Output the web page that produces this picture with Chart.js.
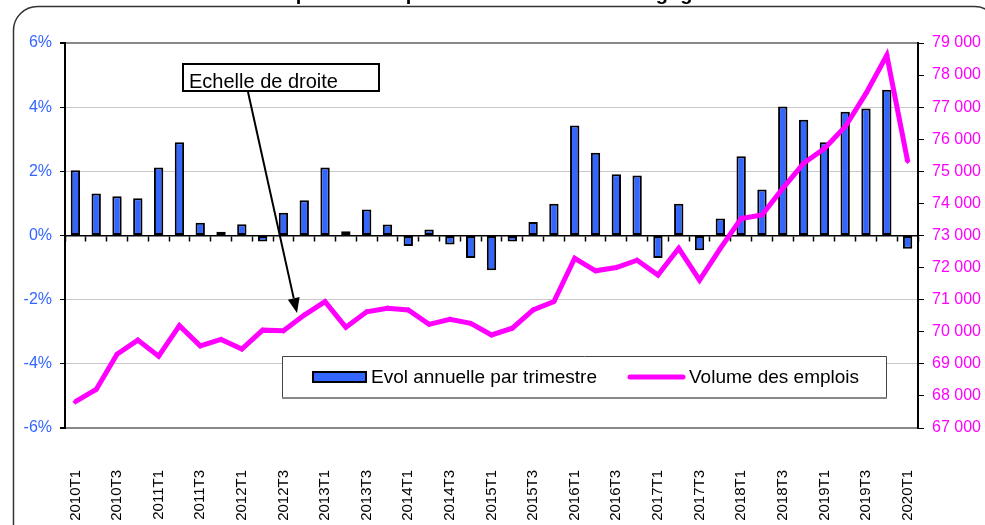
<!DOCTYPE html>
<html>
<head>
<meta charset="utf-8">
<script src="https://cdn.jsdelivr.net/npm/chart.js@4"></script>
<style>
  body { margin: 0; background: #fff; }
  #wrap { width: 985px; height: 525px; position: relative; }
</style>
</head>
<body>
<div id="wrap"><canvas id="chart" width="985" height="525"></canvas></div>
<script>
// === Data ===
const quarters = [
  '2010T1', '2010T2', '2010T3', '2010T4', '2011T1', '2011T2', '2011T3', '2011T4',
  '2012T1', '2012T2', '2012T3', '2012T4', '2013T1', '2013T2', '2013T3', '2013T4',
  '2014T1', '2014T2', '2014T3', '2014T4', '2015T1', '2015T2', '2015T3', '2015T4',
  '2016T1', '2016T2', '2016T3', '2016T4', '2017T1', '2017T2', '2017T3', '2017T4',
  '2018T1', '2018T2', '2018T3', '2018T4', '2019T1', '2019T2', '2019T3', '2019T4',
  '2020T1'
];

// annual change per quarter, in %
const evolAnnuelle = [
  2.03, 1.31, 1.22, 1.16, 2.12, 2.91, 0.40, 0.12, 0.35, -0.19,
  0.71, 1.10, 2.12, 0.13, 0.81, 0.34, -0.33, 0.19, -0.28, -0.70,
  -1.08, -0.19, 0.42, 0.99, 3.43, 2.58, 1.91, 1.87, -0.70, 0.99,
  -0.46, 0.53, 2.47, 1.43, 4.02, 3.61, 2.91, 3.86, 3.96, 4.54,
  -0.41
];

// number of jobs (right scale)
const volumeEmplois = [
  67820, 68200, 69300, 69740, 69240, 70190, 69560, 69760, 69460, 70050,
  70030, 70520, 70940, 70140, 70620, 70730, 70680, 70230, 70390, 70260,
  69900, 70110, 70680, 70940, 72290, 71900, 72000, 72230, 71770, 72600,
  71610, 72600, 73530, 73640, 74470, 75250, 75710, 76390, 77430, 78620,
  75320
];

const leftTicks = { min: -6, max: 6, step: 2 };
const rightTicks = { min: 67000, max: 79000, step: 1000 };

const seriesLabels = ['Evol annuelle par trimestre', 'Volume des emplois'];
const annotationText = 'Echelle de droite';
const titleText = "Evolution de l'emploi salarié privé hors intérim en Bourgogne-Franche-Comté";

// === Colours ===
const BLUE = '#3366ff';
const MAGENTA = '#ff00ff';
const FONT = 'Arial, "Liberation Sans", sans-serif';

function fmtThousands(v) {
  return String(v).replace(/\B(?=(\d{3})+(?!\d))/g, ' ');
}

// === Plugins ===
const framePlugin = {
  id: 'frame',
  beforeDraw(chart) {
    const ctx = chart.ctx;
    ctx.save();
    ctx.fillStyle = '#fff';
    ctx.fillRect(0, 0, chart.width, chart.height);
    ctx.strokeStyle = '#333';
    ctx.lineWidth = 1.5;
    ctx.beginPath();
    ctx.roundRect(13.5, 6.5, 985, 570, 24);
    ctx.stroke();
    ctx.restore();
  },
  afterDraw(chart) {
    const ctx = chart.ctx;
    ctx.save();

    // cut-off title at the top
    ctx.fillStyle = '#000';
    ctx.font = 'bold 20px ' + FONT;
    ctx.textAlign = 'center';
    ctx.textBaseline = 'alphabetic';
    ctx.fillText(titleText, 500, 0);

    // "Echelle de droite" note + arrow
    ctx.fillStyle = '#fff';
    ctx.fillRect(183, 64, 196, 27);
    ctx.strokeStyle = '#000';
    ctx.lineWidth = 2;
    ctx.strokeRect(183, 64, 196, 27);
    ctx.fillStyle = '#000';
    ctx.font = '20px ' + FONT;
    ctx.textAlign = 'left';
    ctx.fillText(annotationText, 189, 88);

    const ax = 248, ay = 92, bx = 297, by = 313;
    const ang = Math.atan2(by - ay, bx - ax);
    const hl = 15, hw = 6;
    const baseX = bx - hl * Math.cos(ang), baseY = by - hl * Math.sin(ang);
    ctx.beginPath();
    ctx.moveTo(ax, ay);
    ctx.lineTo(baseX, baseY);
    ctx.lineWidth = 2;
    ctx.stroke();
    ctx.beginPath();
    ctx.moveTo(bx, by);
    ctx.lineTo(baseX + hw * Math.sin(ang), baseY - hw * Math.cos(ang));
    ctx.lineTo(baseX - hw * Math.sin(ang), baseY + hw * Math.cos(ang));
    ctx.closePath();
    ctx.fill();

    // legend box
    const lx = 282, ly = 356, lw = 604, lh = 42;
    ctx.fillStyle = '#fff';
    ctx.fillRect(lx, ly, lw, lh);
    ctx.strokeStyle = '#444';
    ctx.lineWidth = 1;
    ctx.beginPath();
    ctx.moveTo(lx + 0.5, ly + lh);
    ctx.lineTo(lx + 0.5, ly + 0.5);
    ctx.lineTo(lx + lw + 0.5, ly + 0.5);
    ctx.lineTo(lx + lw + 0.5, ly + lh);
    ctx.stroke();
    ctx.strokeStyle = '#888';
    ctx.lineWidth = 2;
    ctx.beginPath();
    ctx.moveTo(lx, ly + lh);
    ctx.lineTo(lx + lw + 1, ly + lh);
    ctx.stroke();

    const midY = ly + 21;
    const bar = chart.data.datasets[0];
    ctx.fillStyle = bar.backgroundColor;
    ctx.fillRect(313, midY - 5, 53, 10);
    ctx.strokeStyle = '#000';
    ctx.lineWidth = 2;
    ctx.strokeRect(313, midY - 5, 53, 10);

    ctx.fillStyle = '#000';
    ctx.font = '19px ' + FONT;
    ctx.textBaseline = 'middle';
    ctx.fillText(bar.label, 371, midY + 1);

    const line = chart.data.datasets[1];
    ctx.strokeStyle = line.borderColor;
    ctx.lineWidth = 5;
    ctx.lineCap = 'round';
    ctx.beginPath();
    ctx.moveTo(630, midY);
    ctx.lineTo(683, midY);
    ctx.stroke();
    ctx.fillStyle = '#000';
    ctx.fillText(line.label, 689, midY + 1);

    ctx.restore();
  }
};

// === Chart ===
const ctx = document.getElementById('chart').getContext('2d');
new Chart(ctx, {
  type: 'bar',
  data: {
    labels: quarters,
    datasets: [{
      type: 'bar',
      label: seriesLabels[0],
      data: evolAnnuelle,
      backgroundColor: BLUE,
      borderColor: '#000',
      borderWidth: 2,
      borderSkipped: false,
      barPercentage: 0.45,
      categoryPercentage: 1,
      xAxisID: 'x',
      yAxisID: 'y',
      order: 2
    }, {
      type: 'line',
      label: seriesLabels[1],
      data: volumeEmplois,
      borderColor: MAGENTA,
      backgroundColor: MAGENTA,
      borderWidth: 5,
      pointStyle: 'rectRot',
      pointRadius: 3,
      pointBorderWidth: 0,
      tension: 0,
      xAxisID: 'x',
      yAxisID: 'y1',
      order: 1
    }]
  },
  options: {
    responsive: false,
    animation: false,
    layout: { padding: { top: 43, left: 0, right: 0, bottom: 0 } },
    plugins: {
      legend: { display: false },
      tooltip: { enabled: false }
    },
    scales: {
      x: {
        type: 'category',
        position: 'bottom',
        offset: true,
        grid: { display: false, drawTicks: false, offset: true },
        border: { display: true, color: '#888', width: 2 },
        ticks: {
          autoSkip: false,
          minRotation: 90,
          maxRotation: 90,
          padding: 42,
          color: '#000',
          font: { family: FONT, size: 15 },
          callback: (v, i) => (i % 2 === 0 ? quarters[i] : '')
        },
        afterFit: (s) => { s.height = 97; }
      },
      x0: {
        type: 'category',
        position: { y: 0 },
        offset: true,
        grid: {
          offset: true,
          drawOnChartArea: false,
          drawTicks: true,
          tickLength: 5,
          tickColor: '#000',
          tickWidth: 1.5
        },
        border: { display: true, color: '#000', width: 1.5 },
        ticks: { display: false }
      },
      y: {
        position: 'left',
        min: leftTicks.min,
        max: leftTicks.max,
        ticks: {
          stepSize: leftTicks.step,
          color: BLUE,
          padding: 8,
          font: { family: FONT, size: 16 },
          callback: (v) => v + '%'
        },
        grid: {
          color: (c) => {
            const v = c.tick && c.tick.value;
            if (v === 0) return 'rgba(0,0,0,0)';
            if (v === leftTicks.max || v === leftTicks.min) return '#888';
            return '#c8c8c8';
          },
          lineWidth: (c) => {
            const v = c.tick && c.tick.value;
            return (v === leftTicks.max || v === leftTicks.min) ? 2 : 1;
          },
          tickColor: '#000',
          tickLength: 5
        },
        border: { display: true, color: '#000', width: 2 },
        afterFit: (s) => { s.width = 65; }
      },
      y1: {
        position: 'right',
        min: rightTicks.min,
        max: rightTicks.max,
        ticks: {
          stepSize: rightTicks.step,
          color: MAGENTA,
          padding: 8,
          font: { family: FONT, size: 16 },
          callback: (v) => fmtThousands(v)
        },
        grid: {
          drawOnChartArea: false,
          tickColor: '#000',
          tickLength: 6
        },
        border: { display: true, color: '#000', width: 2 },
        afterFit: (s) => { s.width = 67; }
      }
    }
  },
  plugins: [framePlugin]
});
</script>
</body>
</html>
